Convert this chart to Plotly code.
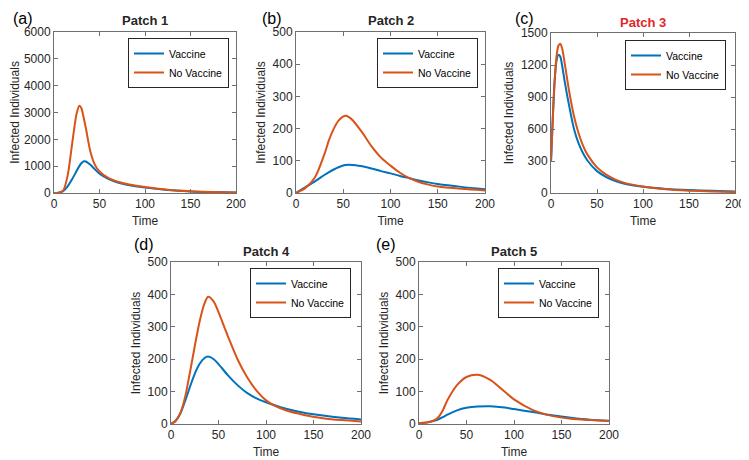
import plotly.graph_objects as go

# ---------------- data ----------------
time_p1 = [0, 5, 10, 15, 20, 25, 28, 30, 33, 35, 40, 45, 50, 60, 70, 80, 100, 125, 150, 175, 200]
vac_p1 = [0, 10, 70, 250, 520, 830, 1010, 1110, 1185, 1175, 1050, 880, 720, 520, 390, 310, 200, 110, 60, 35, 20]
novac_p1 = [0, 12, 90, 650, 1850, 2980, 3250, 3170, 2750, 2420, 1540, 1050, 800, 550, 420, 335, 220, 120, 65, 35, 20]

time_p2 = [0, 10, 20, 30, 35, 40, 45, 52, 56, 60, 70, 80, 90, 100, 110, 120, 130, 140, 150, 175, 200]
vac_p2 = [0, 18, 36, 56, 65, 73, 80, 87, 88, 87, 83, 76, 68, 61, 53, 46, 39, 33, 28, 19, 12]
novac_p2 = [0, 16, 48, 120, 165, 200, 225, 240, 236, 226, 188, 145, 110, 85, 63, 46, 34, 26, 20, 13, 8]

time_p3 = [0, 2, 4, 6, 8, 10, 12, 15, 20, 25, 30, 35, 40, 50, 60, 70, 80, 100, 125, 150, 175, 200]
vac_p3 = [290, 720, 1060, 1240, 1295, 1280, 1200, 1040, 805, 600, 465, 370, 300, 205, 150, 112, 86, 58, 38, 27, 20, 15]
novac_p3 = [290, 700, 1050, 1280, 1380, 1400, 1360, 1210, 940, 720, 560, 440, 355, 240, 172, 126, 95, 60, 35, 22, 14, 9]

time_p4 = [0, 5, 10, 15, 20, 25, 30, 35, 39, 45, 50, 60, 70, 80, 90, 100, 110, 120, 140, 160, 180, 200]
vac_p4 = [0, 10, 33, 72, 115, 155, 185, 203, 208, 200, 185, 150, 120, 96, 79, 67, 57, 48, 35, 26, 19, 14]
novac_p4 = [0, 10, 35, 85, 160, 240, 315, 370, 393, 378, 345, 270, 200, 145, 103, 73, 55, 43, 28, 18, 12, 8]

time_p5 = [0, 10, 15, 20, 25, 30, 40, 50, 62, 75, 90, 100, 120, 140, 160, 180, 200]
vac_p5 = [2, 5, 9, 14, 21, 29, 42, 50, 54, 55, 51, 46, 37, 27, 19, 13, 10]
novac_p5 = [2, 6, 10, 20, 42, 74, 120, 145, 152, 136, 100, 76, 43, 25, 16, 12, 9]

panel_titles = ["Patch 1", "Patch 2", "Patch 3", "Patch 4", "Patch 5"]
panel_letters = ["(a)", "(b)", "(c)", "(d)", "(e)"]
y_max = [6000, 500, 1500, 500, 500]
y_step = [1000, 100, 300, 100, 100]
x_ticks = [0, 50, 100, 150, 200]
series_names = ["Vaccine", "No Vaccine"]

# ---------------- styling / layout ----------------
OFF = 8                      # page body margin in the browser
W, H = 749 - OFF, 460 - OFF  # figure size so that it fits the window
BLUE = "#0072BD"
ORANGE = "#D95319"
TXT = "#262626"
AXC = "#707070"
FONT = "Liberation Sans, Arial, sans-serif"


def fx(sx):
    return (sx - OFF) / W


def fy(sy):
    return 1 - (sy - OFF) / H


# axes boxes in window pixels: (left, right, top, bottom)
boxes = [(54, 236, 32, 193), (296, 485, 32, 193), (551, 735, 33, 193),
         (171, 361, 262, 424), (419, 609, 262, 424)]
legend_corner = [(229, 38), (478, 38), (726, 40), (351, 268), (599, 268)]
# (x center, y, y-anchor) of the panel letters in window pixels
letter_pos = [(23, 8, "top"), (272, 8, "top"), (524, 8, "top"),
              (144, 244, "middle"), (386, 244, "middle")]
y_title_standoff = [5, 4, 4, 4, 4]
title_colors = [TXT, TXT, "#E3262A", TXT, TXT]

data = [(time_p1, vac_p1, novac_p1), (time_p2, vac_p2, novac_p2),
        (time_p3, vac_p3, novac_p3), (time_p4, vac_p4, novac_p4),
        (time_p5, vac_p5, novac_p5)]

fig = go.Figure()
layout = dict(width=W, height=H, margin=dict(l=0, r=0, t=0, b=0, autoexpand=False),
              plot_bgcolor="white", paper_bgcolor="white",
              font=dict(family=FONT, color=TXT, size=12), showlegend=True)
annotations = []

for i, (t, v, nv) in enumerate(data):
    n = i + 1
    sfx = "" if n == 1 else str(n)
    xa, ya, lg = "x" + sfx, "y" + sfx, "legend" + sfx
    for name, ys, col in [(series_names[0], v, BLUE), (series_names[1], nv, ORANGE)]:
        fig.add_trace(go.Scatter(x=t, y=ys, name=name, mode="lines",
                                 line=dict(color=col, width=2, shape="spline", smoothing=0.8),
                                 xaxis=xa, yaxis=ya, legend=lg))
    l, r, tp, bt = boxes[i]
    common = dict(showline=True, mirror="ticks", linecolor=AXC, linewidth=1,
                  ticks="inside", ticklen=4, tickcolor=AXC, showgrid=False,
                  zeroline=False, automargin=False,
                  tickfont=dict(size=12, color=TXT, family=FONT))
    layout["xaxis" + sfx] = dict(domain=[fx(l), fx(r)], anchor=ya, range=[0, 200],
                                 tickvals=x_ticks,
                                 title=dict(text="Time", standoff=6,
                                            font=dict(size=12, color=TXT)),
                                 **common)
    layout["yaxis" + sfx] = dict(domain=[fy(bt), fy(tp)], anchor=xa, range=[0, y_max[i]],
                                 dtick=y_step[i], tick0=0,
                                 title=dict(text="Infected Individuals",
                                            standoff=y_title_standoff[i],
                                            font=dict(size=12, color=TXT)),
                                 **common)
    lx, ly = legend_corner[i]
    layout[lg] = dict(x=fx(lx), y=fy(ly), xanchor="right", yanchor="top",
                      xref="paper", yref="paper",
                      bgcolor="white", bordercolor=TXT, borderwidth=1,
                      font=dict(size=10.5, color="black", family=FONT),
                      itemwidth=30, tracegroupgap=0)
    annotations.append(dict(text="<b>" + panel_titles[i] + "</b>", x=fx((l + r) / 2),
                            y=fy(tp - 11), xref="paper", yref="paper",
                            xanchor="center", yanchor="middle", showarrow=False,
                            font=dict(size=13, color=title_colors[i], family=FONT)))
    px_, py_, anc = letter_pos[i]
    annotations.append(dict(text=panel_letters[i], x=fx(px_), y=fy(py_),
                            xref="paper", yref="paper", xanchor="center", yanchor=anc,
                            showarrow=False, font=dict(size=16, color="black", family=FONT)))

layout["annotations"] = annotations
fig.update_layout(**layout)
fig.write_html("out.html")
